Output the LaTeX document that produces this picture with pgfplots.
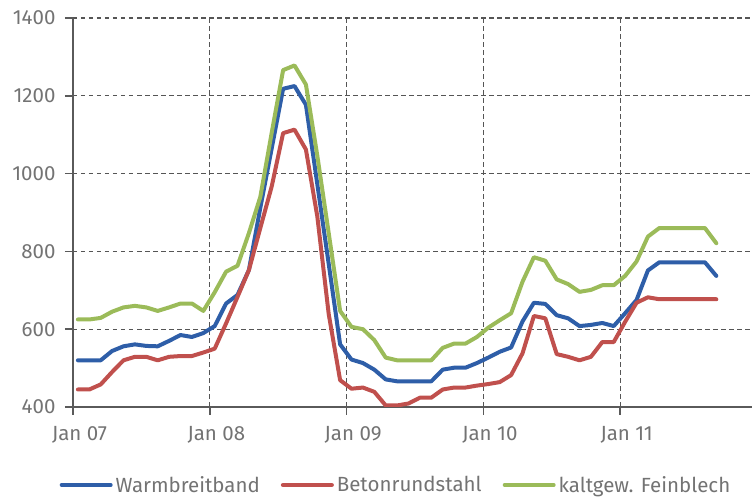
\documentclass[border=0pt]{standalone}
\usepackage{fontspec}
\setmainfont{Fira Sans}
\usepackage{pgfplots}
\pgfplotsset{compat=1.18}
\usepackage{pgfplotstable}
\definecolor{cblue}{HTML}{2E5EA8}
\definecolor{cred}{HTML}{C0504D}
\definecolor{cgreen}{HTML}{9BBB59}
\definecolor{axisgray}{HTML}{5A5A5A}
\definecolor{gridgray}{HTML}{555555}
\definecolor{labelgray}{HTML}{737373}

% m = month index (0 = Jan 07); w = Warmbreitband, b = Betonrundstahl, k = kaltgew. Feinblech
\pgfplotstableread{
m w b k
0 520 445 625
1 520 445 625
2 520 458 629
3 544 490 645
4 556 520 656
5 561 529 660
6 557 529 656
7 556 520 647
8 570 529 656
9 585 531 666
10 580 531 666
11 590 540 647
12 608 550 695
13 666 615 748
14 688 683 763
15 752 752 847
16 912 860 940
17 1065 967 1105
18 1218 1104 1266
19 1225 1113 1278
20 1177 1062 1229
21 973 890 1046
22 768 639 847
23 561 469 647
24 522 447 606
25 513 450 600
26 496 439 572
27 471 404 527
28 466 404 520
29 466 409 520
30 466 424 520
31 466 424 520
32 496 445 552
33 501 450 563
34 501 450 563
35 513 455 580
36 527 459 604
37 542 464 623
38 553 482 641
39 620 538 722
40 668 634 785
41 665 628 776
42 636 536 728
43 628 529 716
44 608 520 696
45 611 529 701
46 616 567 713
47 608 567 713
48 641 619 737
49 675 668 774
50 751 682 838
51 772 677 860
52 772 677 860
53 772 677 860
54 772 677 860
55 772 677 860
56 737 677 821
}\data

\begin{document}
\begin{tikzpicture}[x=1pt,y=1pt]
\useasboundingbox (-73,-91) rectangle (680,407);
\begin{axis}[
  at={(0,0)}, anchor=south west,
  scale only axis, width=679pt, height=389pt,
  xmin=0, xmax=59.56, ymin=400, ymax=1400,
  axis lines*=left,
  axis line style={draw=axisgray, line width=2pt},
  tick align=outside,
  major tick length=8pt,
  tick style={draw=axisgray, line width=1.5pt},
  xtick={0,12,24,36,48},
  xticklabels={Jan 07,Jan 08,Jan 09,Jan 10,Jan 11},
  ytick={400,600,800,1000,1200,1400},
  /pgf/number format/assume math mode=true,
  /pgf/number format/1000 sep={},
  ticklabel style={font=\fontsize{20.5}{24}\selectfont, text=labelgray},
  xticklabel style={xshift=6.5pt, yshift=-8pt},
  yticklabel style={xshift=-6pt},
  grid=major,
  grid style={draw=gridgray, line width=1.2pt, dash pattern=on 4.5pt off 3.5pt},
  legend columns=3,
  legend style={at={(axis description cs:0.4742,-0.2005)}, anchor=center,
    draw=none, fill=none,
    nodes={inner sep=0pt, text=labelgray, font=\fontsize{20.5}{24}\selectfont},
    /tikz/every odd column/.append style={column sep=3pt},
    /tikz/every even column/.append style={column sep=21pt}},
  legend image code/.code={\draw[#1] (0pt,0pt) -- (49pt,0pt);},
  every axis plot/.append style={line width=4pt, line join=round, line cap=round},
]
\addplot[cblue] table[x expr=\thisrow{m}+0.43, y=w] {\data};
\addlegendentry{Warmbreitband}
\addplot[cred] table[x expr=\thisrow{m}+0.43, y=b] {\data};
\addlegendentry{Betonrundstahl}
\addplot[cgreen] table[x expr=\thisrow{m}+0.43, y=k] {\data};
\addlegendentry{kaltgew. Feinblech}
\end{axis}
\end{tikzpicture}
\end{document}
